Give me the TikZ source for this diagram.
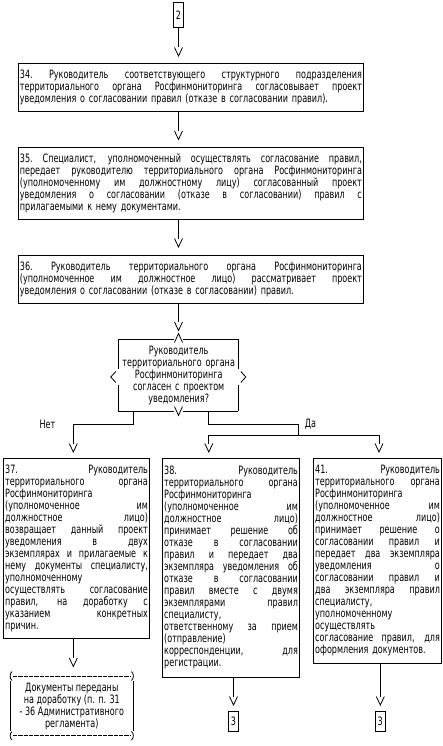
\documentclass[tikz,border=0pt]{standalone}
\usepackage{fontspec}
\setmainfont{DejaVu Sans}[FakeStretch=0.7]
\newlength{\jw}
\newcommand{\jl}[1]{\leavevmode\hbox to \jw{\spaceskip=2.6pt plus 1fil\xspaceskip=2.6pt plus 1fil #1}\\}
\begin{document}
\begin{tikzpicture}[x=1pt,y=1pt,line width=0.8pt,
  every node/.style={font=\fontsize{11.5}{12}\selectfont},
  blk/.style={draw, anchor=north west, inner xsep=1.5pt, inner ysep=0pt, align=left},
  term/.style={draw, inner sep=0pt},
  vmark/.pic={\draw (-4,0) -- (0,-8.5) -- (4,0);}]
\fill[white] (0,0) rectangle (443,-746);
\useasboundingbox (0,0) rectangle (443,-746);

% top terminal
\node[term, minimum width=10.6pt, minimum height=24.6pt] (n2) at (178.5,-15) {2};

% box 34
\node[blk, text width=342pt, minimum height=47.7pt] (b34) at (18,-63.3) {\setlength{\jw}{342pt}%
\jl{34. Руководитель соответствующего структурного подразделения}
\jl{территориального органа Росфинмониторинга согласовывает проект}
уведомления о согласовании правил (отказе в согласовании правил).};

% box 35
\node[blk, text width=342pt, minimum height=72pt] (b35) at (18,-147.3) {\setlength{\jw}{342pt}%
\jl{35. Специалист, уполномоченный осуществлять согласование правил,}
\jl{передает руководителю территориального органа Росфинмониторинга}
\jl{(уполномоченному им должностному лицу) согласованный проект}
\jl{уведомления о согласовании (отказе в согласовании) правил с}
прилагаемыми к нему документами.};

% box 36
\node[blk, text width=342pt, minimum height=48.3pt] (b36) at (18,-255) {\setlength{\jw}{342pt}%
\jl{36. Руководитель территориального органа Росфинмониторинга}
\jl{(уполномоченное им должностное лицо) рассматривает проект}
уведомления о согласовании (отказе в согласовании) правил.};

% decision
\node[anchor=north west, inner xsep=1.5pt, inner ysep=0pt, text width=117pt,
      minimum height=72pt, align=center] (dec) at (118.3,-339) {%
Руководитель\\территориального органа\\Росфинмониторинга\\согласен с проектом\\уведомления?};
\draw (118.3,-339) -- (174.2,-339) (182.8,-339) -- (238.3,-339);
\draw (118.3,-411) -- (174.2,-411) (182.8,-411) -- (238.3,-411);
\draw (118.3,-339) -- (118.3,-369) (118.3,-385) -- (118.3,-411);
\draw (238.3,-339) -- (238.3,-369) (238.3,-385) -- (238.3,-411);
\draw (174.5,-342.5) -- (178.5,-333.5) -- (182.5,-342.5);
\draw (174.5,-406.5) -- (178.5,-415.5) -- (182.5,-406.5);
\draw (115.8,-371.5) -- (110.8,-377) -- (115.8,-382.5);
\draw (240.8,-371.5) -- (245.8,-377) -- (240.8,-382.5);

% box 37
\node[blk, text width=142.7pt, minimum height=180.3pt] (b37) at (3.3,-458) {\setlength{\jw}{142.7pt}%
\jl{37. Руководитель}
\jl{территориального органа}
Росфинмониторинга\\
\jl{(уполномоченное им}
\jl{должностное лицо)}
\jl{возвращает данный проект}
\jl{уведомления в двух}
\jl{экземплярах и прилагаемые к}
\jl{нему документы специалисту,}
уполномоченному\\
\jl{осуществлять согласование}
\jl{правил, на доработку с}
\jl{указанием конкретных}
причин.};

% box 38
\node[blk, text width=133.7pt, minimum height=218.7pt] (b38) at (162.3,-458) {\setlength{\jw}{133.7pt}%
\jl{38. Руководитель}
\jl{территориального органа}
Росфинмониторинга\\
\jl{(уполномоченное им}
\jl{должностное лицо)}
\jl{принимает решение об}
\jl{отказе в согласовании}
\jl{правил и передает два}
\jl{экземпляра уведомления об}
\jl{отказе в согласовании}
\jl{правил вместе с двумя}
\jl{экземплярами правил}
специалисту,\\
\jl{ответственному за прием}
(отправление)\\
\jl{корреспонденции, для}
регистрации.};

% box 41
\node[blk, text width=124.7pt, minimum height=204.7pt] (b41) at (313.3,-458) {\setlength{\jw}{124.7pt}%
\jl{41. Руководитель}
\jl{территориального органа}
Росфинмониторинга\\
\jl{(уполномоченное им}
\jl{должностное лицо)}
\jl{принимает решение о}
\jl{согласовании правил и}
\jl{передает два экземпляра}
\jl{уведомления о}
\jl{согласовании правил и}
\jl{два экземпляра правил}
специалисту,\\
уполномоченному\\
осуществлять\\
\jl{согласование правил, для}
оформления документов.};

% final terminals
\node[term, minimum width=9.6pt, minimum height=20pt] (n3a) at (233.5,-721.7) {3};
\node[term, minimum width=9.6pt, minimum height=20pt] (n3b) at (380.3,-721.7) {3};

% returned-documents box
\node[align=center, inner sep=0pt] (done) at (71.8,-706) {%
Документы переданы\\на доработку (п. п. 31\\- 36 Административного\\регламента)};
\draw (12,-671.5) .. controls (9.5,-673.5) and (9.5,-678.5) .. (12,-680.5);
\draw (131.5,-671.5) .. controls (134,-673.5) and (134,-678.5) .. (131.5,-680.5);
\draw (12,-731.5) .. controls (9.5,-733.5) and (9.5,-738) .. (12,-740);
\draw (131.5,-731.5) .. controls (134,-733.5) and (134,-738) .. (131.5,-740);
\draw (10,-681) -- (10,-731);
\draw (133.5,-681) -- (133.5,-731);
\draw[dash pattern=on 4.3pt off 1pt] (13,-676) -- (130.5,-676);
\draw[dash pattern=on 4.3pt off 1pt] (13,-735.7) -- (130.5,-735.7);

% connectors
\coordinate (v1) at (178.5,-47.5);
\coordinate (v2) at (178.5,-131);
\coordinate (v3) at (178.5,-238.5);
\coordinate (v4) at (178.5,-322);
\draw (n2) -- (v1);
\draw (v2 |- b34.south) -- (v2);
\draw (v3 |- b35.south) -- (v3);
\draw (v4 |- b36.south) -- (v4);
\pic at (v1) {vmark};
\pic at (v2) {vmark};
\pic at (v3) {vmark};
\pic at (v4) {vmark};

\coordinate (vl) at (73.3,-443.5);
\coordinate (vm) at (208.8,-443.5);
\coordinate (vr) at (379,-443.5);
\coordinate (hm) at (208.8,-435);
\coordinate (hr) at (379,-435);
\coordinate (jr) at (298.3,-435);
\draw ([xshift=15pt]dec.south west) -- ++(0,-12.3) -| (vl);
\draw ([xshift=90pt]dec.south west) -- ++(0,-12.3) -| (jr);
\draw (vm) -- (hm) -- (hr) -- (vr);
\pic at (vl) {vmark};
\pic at (vm) {vmark};
\pic at (vr) {vmark};
\node (no) at (47.5,-424) {Нет};
\node (yes) at (310.5,-424) {Да};

\coordinate (v37) at (73.3,-658);
\coordinate (v38) at (233.5,-696.5);
\coordinate (v41) at (380.3,-696.5);
\draw (v37 |- b37.south) -- (v37);
\draw (v38 |- b38.south) -- (v38);
\draw (v41 |- b41.south) -- (v41);
\pic at (v37) {vmark};
\pic at (v38) {vmark};
\pic at (v41) {vmark};
\end{tikzpicture}
\end{document}
